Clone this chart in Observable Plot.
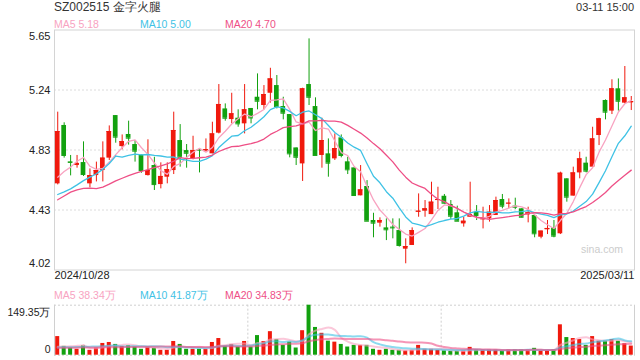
<!DOCTYPE html>
<html><head><meta charset="utf-8">
<script src="https://cdn.jsdelivr.net/npm/d3@7"></script>
<script src="https://cdn.jsdelivr.net/npm/@observablehq/plot@0.6"></script>
<style>
body{margin:0;background:#fff;font-family:"Liberation Sans",Arial,sans-serif;}
#wrap{position:relative;width:640px;height:360px;overflow:hidden;background:#fff;}
#wrap svg{position:absolute;left:0;}
.t{position:absolute;white-space:nowrap;line-height:1;}
</style></head><body><div id="wrap"></div>
<script>
const title = "SZ002515 金字火腿";
const timeStamp = "03-11 15:00";
const dateLabels = ["2024/10/28", "2025/03/11"];
const watermark = "sina.com";

const open = [4.607,5.002,4.756,4.731,4.751,4.607,4.663,4.697,4.781,5.069,
4.859,4.941,4.873,4.801,4.663,4.731,4.602,4.652,4.697,4.900,
4.832,4.776,4.839,4.828,4.810,4.950,5.114,5.042,5.051,5.013,
5.117,5.193,5.137,5.220,5.272,5.130,5.076,4.850,4.742,5.279,
5.130,4.799,4.810,4.776,4.918,4.756,4.715,4.526,4.589,4.359,
4.341,4.309,4.314,4.291,4.165,4.190,4.415,4.422,4.399,4.494,
4.523,4.467,4.411,4.336,4.381,4.415,4.363,4.370,4.393,4.501,
4.472,4.456,4.438,4.397,4.393,4.246,4.296,4.309,4.269,4.641,
4.524,4.681,4.747,4.720,4.934,5.171,5.099,5.250,5.153,5.155];
const high = [5.092,5.020,4.799,4.799,4.891,4.708,4.754,4.891,4.999,5.069,
4.938,5.031,4.900,4.801,4.905,4.787,4.749,4.749,5.092,5.008,
4.873,4.929,4.839,4.911,5.024,5.279,5.148,5.220,5.108,5.279,
5.117,5.351,5.272,5.389,5.340,5.193,5.076,4.850,5.254,5.588,
5.189,5.051,4.911,4.945,4.938,4.787,4.715,4.731,4.629,4.408,
4.377,4.370,4.370,4.370,4.235,4.309,4.539,4.494,4.618,4.584,
4.535,4.494,4.456,4.381,4.618,4.460,4.449,4.460,4.517,4.535,
4.505,4.510,4.438,4.449,4.393,4.287,4.359,4.359,4.686,4.641,
4.720,4.821,4.787,4.990,5.051,5.175,5.311,5.317,5.401,5.198];
const low = [4.600,4.781,4.661,4.713,4.657,4.580,4.620,4.620,4.765,4.882,
4.837,4.869,4.754,4.679,4.660,4.562,4.573,4.607,4.670,4.720,
4.713,4.769,4.681,4.821,4.810,4.945,5.031,5.013,4.990,4.945,
5.013,5.108,5.108,5.153,5.114,5.040,4.783,4.731,4.623,5.137,
4.799,4.713,4.652,4.765,4.783,4.670,4.528,4.526,4.354,4.242,
4.314,4.223,4.235,4.179,4.066,4.190,4.381,4.381,4.399,4.433,
4.470,4.366,4.354,4.314,4.381,4.359,4.302,4.348,4.393,4.438,
4.438,4.433,4.377,4.343,4.242,4.235,4.264,4.242,4.264,4.483,
4.524,4.641,4.681,4.720,4.866,5.040,5.076,5.099,5.148,5.103];
const close = [4.961,4.799,4.752,4.745,4.670,4.663,4.697,4.781,4.961,4.923,
4.893,4.916,4.828,4.697,4.697,4.602,4.657,4.704,4.968,4.787,
4.814,4.832,4.835,4.839,4.945,5.144,5.051,5.081,5.013,5.108,
5.053,5.166,5.211,5.317,5.130,5.085,4.810,4.787,5.250,5.193,
4.799,4.900,4.747,4.846,4.799,4.702,4.528,4.566,4.354,4.341,
4.359,4.296,4.309,4.190,4.183,4.291,4.422,4.438,4.483,4.501,
4.476,4.388,4.354,4.354,4.399,4.393,4.377,4.415,4.494,4.456,
4.476,4.449,4.381,4.411,4.269,4.287,4.305,4.253,4.679,4.517,
4.681,4.776,4.693,4.911,5.047,5.092,5.250,5.166,5.189,5.164];
// volume in 万 (10k shares)
const volume = [55.6,26.4,21.5,17.6,28.3,14.6,21.5,35.1,38.0,32.2,
26.4,28.3,24.4,17.6,24.4,20.5,14.6,14.6,41.0,32.2,
17.6,17.6,17.6,17.6,38.0,49.8,26.4,32.2,24.4,41.0,
24.4,58.6,41.0,70.3,46.8,29.3,39.0,21.5,73.2,149.35,
82.9,65.4,42.0,39.0,32.2,24.4,29.3,29.3,29.3,17.6,
14.6,17.6,14.6,14.6,12.7,14.6,29.3,17.6,17.6,14.6,
12.7,11.7,11.7,12.7,23.4,15.6,15.6,15.6,15.6,12.7,
15.6,15.6,15.6,15.6,20.5,12.7,12.7,16.6,90.8,52.7,
49.8,46.8,29.3,55.6,42.0,42.0,46.8,42.0,34.2,27.3];

// moving-average values before a full window is available
const ma5Head  = [4.652,4.690,4.720,4.760,4.785];
const ma10Head = [4.535,4.553,4.573,4.600,4.629,4.652,4.675,4.705,4.745,4.795];
const ma20Head = [4.499,4.525,4.551,4.566,4.576,4.578,4.574,4.585,4.605,4.627,
                  4.645,4.662,4.678,4.692,4.703,4.716,4.729,4.742,4.760,4.784];
const volMa5Head  = [25,26,26.5,28,29.9];
const volMa10Head = [23,23.5,24,24.2,25,25.5,26,27,28,29.1];
const volMa20Head = [22,22.3,22.5,22.6,22.9,23,23.1,23.4,23.7,23.9,
                     24.1,24.4,24.6,24.9,25.2,25.5,25.8,26.1,26.4,26.7];

const priceTicks = [4.024, 4.430, 4.836, 5.242, 5.648];
const priceTickLabels = ["4.02", "4.43", "4.83", "5.24", "5.65"];
const volTicks = [0, 149.35];
const volTickLabels = ["0", "149.35万"];
const priceLegend = [["MA5", "5.18"], ["MA10", "5.00"], ["MA20", "4.70"]];
const volLegend = [["MA5", "38.34万"], ["MA10", "41.87万"], ["MA20", "34.83万"]];

const UP = "#f0190d", DOWN = "#12a10f";
const MA_COLORS = ["#f8a3c1", "#3fc2e5", "#ee4f86"];
const MA_K = [5, 10, 20];

const n = close.length;
const candles = d3.range(n).map(i => ({i, open: open[i], high: high[i], low: low[i], close: close[i], vol: volume[i],
  color: close[i] >= open[i] ? UP : DOWN}));
const heads = [ma5Head, ma10Head, ma20Head];
const volHeads = [volMa5Head, volMa10Head, volMa20Head];

const wrap = document.getElementById("wrap");
const FONT = '"Liberation Sans", Arial, sans-serif';

// ---------- price panel ----------
const xPrice = {type: "band", domain: d3.range(n), paddingInner: 0.27, paddingOuter: 0.135, axis: null};
const price = Plot.plot({
  width: 640, height: 290,
  marginTop: 29.5, marginBottom: 20.5, marginLeft: 54, marginRight: 6,
  style: {fontFamily: FONT, fontSize: "11px", background: "transparent", color: "#222"},
  x: xPrice,
  y: {domain: [priceTicks[0], priceTicks[priceTicks.length - 1]], axis: null},
  marks: [
    Plot.ruleY(priceTicks.slice(1, -1), {stroke: "#dcdcdc", strokeDasharray: "2,2"}),
    Plot.frame({stroke: "#d4d4d4"}),
    Plot.ruleX(candles, {x: "i", y1: "low", y2: "high", stroke: "color", strokeWidth: 1}),
    Plot.barY(candles, {x: "i", y1: "open", y2: "close", fill: "color"}),
    Plot.tickY(candles, {x: "i", y: "close", stroke: "color", strokeWidth: 1}),
    ...MA_K.map((k, j) => Plot.lineY(candles, Plot.windowY({k, anchor: "end", strict: true, reduce: "mean"},
      {x: "i", y: "close", stroke: MA_COLORS[j], strokeWidth: 1.3}))),
    ...heads.map((h, j) => Plot.lineY(h.map((v, i) => ({i, v})), {x: "i", y: "v", stroke: MA_COLORS[j], strokeWidth: 1.3})),
    Plot.text(priceTicks.slice(1, -1), {y: d => d, text: d => priceTickLabels[priceTicks.indexOf(d)],
      frameAnchor: "left", textAnchor: "end", dx: -4, fill: "#222"}),
    Plot.text([priceTicks[priceTicks.length - 1]], {y: d => d, text: d => priceTickLabels[priceTicks.indexOf(d)],
      frameAnchor: "left", textAnchor: "end", dx: -4, dy: 6, fill: "#222"}),
    Plot.text([priceTicks[0]], {y: d => d, text: d => priceTickLabels[priceTicks.indexOf(d)],
      frameAnchor: "left", textAnchor: "end", dx: -4, dy: -6.5, fill: "#222"}),
    Plot.text([dateLabels[0]], {text: d => d, frameAnchor: "bottom-left", textAnchor: "start", dy: 9, fill: "#222"}),
    Plot.text([dateLabels[1]], {text: d => d, frameAnchor: "bottom-right", textAnchor: "end", dy: 9, fill: "#222"})
  ]
});
price.style.top = "0px";
wrap.appendChild(price);

// ---------- volume panel ----------
const xVol = {type: "band", domain: d3.range(n), paddingInner: 0.38, paddingOuter: 0.19, axis: null};
const vol = Plot.plot({
  width: 640, height: 62,
  marginTop: 6.7, marginBottom: 5.3, marginLeft: 54, marginRight: 6,
  style: {fontFamily: FONT, fontSize: "10.5px", background: "transparent", color: "#222"},
  x: xVol,
  y: {domain: volTicks, axis: null},
  marks: [
    Plot.ruleY(volTicks, {stroke: "#cfcfcf", strokeDasharray: "2,2"}),
    Plot.ruleX([29, 59], {dx: 3.22, stroke: "#cfcfcf", strokeDasharray: "2,2"}),
    Plot.frame({anchor: "left", stroke: "#d0d0d0"}),
    Plot.frame({anchor: "right", stroke: "#d0d0d0"}),
    Plot.barY(candles, {x: "i", y: "vol", fill: "color"}),
    ...MA_K.map((k, j) => Plot.lineY(candles, Plot.windowY({k, anchor: "end", strict: true, reduce: "mean"},
      {x: "i", y: "vol", stroke: MA_COLORS[j], strokeWidth: 2, strokeOpacity: 0.6, curve: "monotone-x"}))),
    ...volHeads.map((h, j) => Plot.lineY(h.map((v, i) => ({i, v})), {x: "i", y: "v", stroke: MA_COLORS[j], strokeWidth: 2, strokeOpacity: 0.6, curve: "monotone-x"})),
    Plot.text([volTicks[1]], {y: d => d, text: () => volTickLabels[1], frameAnchor: "left", textAnchor: "end", dx: -4, dy: 7, fill: "#222"}),
    Plot.text([volTicks[0]], {y: d => d, text: () => volTickLabels[0], frameAnchor: "left", textAnchor: "end", dx: -4, dy: -5.7, fill: "#222"})
  ]
});
vol.style.top = "298px";
wrap.appendChild(vol);

// ---------- header / legends ----------
function addText(txt, css) {
  const d = document.createElement("div");
  d.className = "t";
  d.textContent = txt;
  Object.assign(d.style, css);
  wrap.appendChild(d);
  return d;
}
addText(title, {left: "54px", top: "1px", fontSize: "12px", color: "#333"});
addText(timeStamp, {right: "6px", top: "2px", fontSize: "11px", color: "#333"});
const legendLeft = [54, 140, 225];
priceLegend.forEach(([name, v], j) => addText(name + " " + v, {left: legendLeft[j] + "px", top: "18.5px", fontSize: "10.5px", color: MA_COLORS[j]}));
volLegend.forEach(([name, v], j) => addText(name + " " + v, {left: legendLeft[j] + "px", top: "289.5px", fontSize: "10.5px", color: MA_COLORS[j]}));
addText(watermark, {right: "17px", top: "244px", fontSize: "10.5px", color: "#cccccc"});
</script></body></html>
